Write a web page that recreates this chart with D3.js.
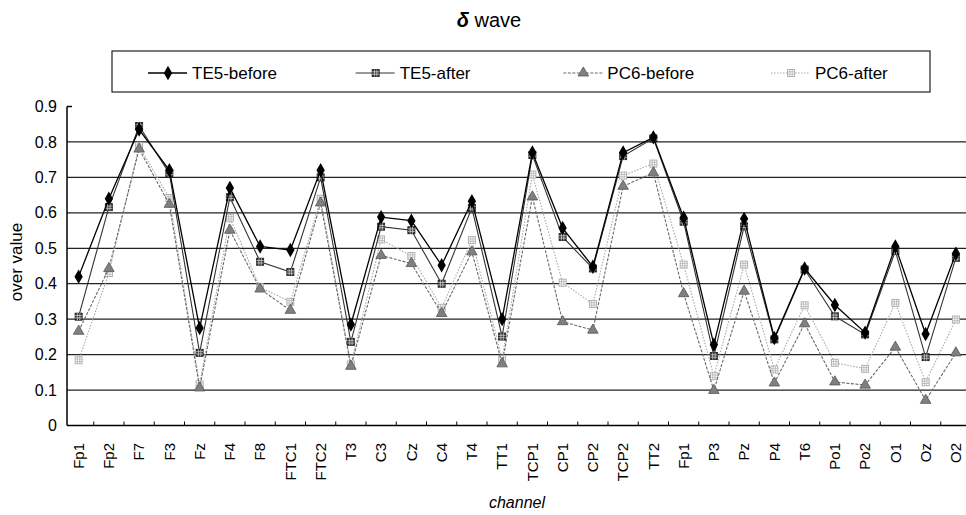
<!DOCTYPE html>
<html>
<head>
<meta charset="utf-8">
<script src="https://cdn.jsdelivr.net/npm/d3@7/dist/d3.min.js"></script>
<style>
  body { margin: 0; background: #fff; }
  svg { display: block; font-family: "Liberation Sans", Arial, sans-serif; }
</style>
</head>
<body>
<div id="chart_div"></div>
<script>
// channel names (Fp1 appears twice in the source chart)
var channels = ["Fp1", "Fp2", "F7", "F3", "Fz", "F4", "F8", "FTC1", "FTC2", "T3",
    "C3", "Cz", "C4", "T4", "TT1", "TCP1", "CP1", "CP2", "TCP2", "TT2",
    "Fp1", "P3", "Pz", "P4", "T6", "Po1", "Po2", "O1", "Oz", "O2"];

var te5Before = [0.42, 0.64, 0.835, 0.72, 0.275, 0.67, 0.505, 0.495, 0.72, 0.285,
    0.588, 0.578, 0.452, 0.633, 0.30, 0.77, 0.557, 0.448, 0.77, 0.813,
    0.586, 0.228, 0.583, 0.247, 0.443, 0.34, 0.262, 0.505, 0.258, 0.485];
var te5After = [0.307, 0.616, 0.845, 0.711, 0.205, 0.644, 0.462, 0.433, 0.70, 0.236,
    0.561, 0.551, 0.40, 0.614, 0.251, 0.763, 0.532, 0.443, 0.76, 0.81,
    0.575, 0.196, 0.562, 0.243, 0.44, 0.308, 0.257, 0.492, 0.193, 0.473];
var pc6Before = [0.266, 0.443, 0.78, 0.624, 0.106, 0.551, 0.385, 0.325, 0.628, 0.167,
    0.48, 0.457, 0.316, 0.49, 0.174, 0.645, 0.293, 0.269, 0.675, 0.713,
    0.372, 0.099, 0.379, 0.12, 0.287, 0.123, 0.114, 0.221, 0.071, 0.205];
var pc6After = [0.184, 0.43, 0.788, 0.642, 0.116, 0.586, 0.39, 0.349, 0.64, 0.172,
    0.525, 0.478, 0.332, 0.523, 0.188, 0.708, 0.403, 0.343, 0.705, 0.739,
    0.454, 0.139, 0.454, 0.158, 0.339, 0.177, 0.16, 0.346, 0.122, 0.299];

var seriesNames = ["TE5-before", "TE5-after", "PC6-before", "PC6-after"];
var yTicks = [0, 0.1, 0.2, 0.3, 0.4, 0.5, 0.6, 0.7, 0.8, 0.9];

var width = 966, height = 515;
var svg = d3.select("#chart_div").append("svg")
    .attr("width", width)
    .attr("height", height);

var x = d3.scaleBand()
    .domain(d3.range(channels.length))
    .range([63.5, 971])
    .padding(0);
var y = d3.scaleLinear().domain([0, 0.9]).range([425.5, 106.5]);
var axisX = 67;

function cx(i) { return x(i) + x.bandwidth() / 2; }

// gridlines
svg.append("g").selectAll("line")
    .data(yTicks.filter(function(d) { return d > 0 && d < 0.9; }))
    .enter().append("line")
    .attr("x1", axisX).attr("x2", width)
    .attr("y1", function(d) { return y(d); })
    .attr("y2", function(d) { return y(d); })
    .attr("stroke", "#222")
    .attr("stroke-width", 1.2);

// y axis
var yAxis = svg.append("g")
    .attr("transform", "translate(" + axisX + ",0)")
    .call(d3.axisLeft(y).tickValues(yTicks).tickSize(0).tickPadding(10)
        .tickFormat(function(d) { return d === 0 ? "0" : d3.format(".1f")(d); }));
yAxis.select(".domain").remove();
yAxis.selectAll("text").attr("font-size", 16).attr("fill", "#000")
    .attr("font-family", "Liberation Sans, Arial, sans-serif");
svg.append("line")
    .attr("x1", axisX).attr("x2", axisX)
    .attr("y1", y(0.9)).attr("y2", y(0))
    .attr("stroke", "#000").attr("stroke-width", 1.5);
svg.append("line")
    .attr("x1", axisX).attr("x2", axisX + 5)
    .attr("y1", y(0.9)).attr("y2", y(0.9))
    .attr("stroke", "#000").attr("stroke-width", 1.5);

// x axis
svg.append("line")
    .attr("x1", axisX).attr("x2", width)
    .attr("y1", y(0)).attr("y2", y(0))
    .attr("stroke", "#000").attr("stroke-width", 1.6);
svg.append("g").selectAll("line")
    .data(d3.range(1, channels.length))
    .enter().append("line")
    .attr("x1", function(d) { return x(d); })
    .attr("x2", function(d) { return x(d); })
    .attr("y1", y(0)).attr("y2", y(0) - 4)
    .attr("stroke", "#000").attr("stroke-width", 1);
svg.append("g").selectAll("text")
    .data(d3.range(channels.length))
    .enter().append("text")
    .attr("transform", function(d) { return "translate(" + cx(d) + ",443) rotate(-90)"; })
    .attr("dy", "0.35em")
    .attr("text-anchor", "end")
    .attr("font-size", 15)
    .text(function(d) { return channels[d]; });

// axis titles
svg.append("text")
    .attr("transform", "translate(22,262) rotate(-90)")
    .attr("text-anchor", "middle")
    .attr("font-size", 17)
    .text("over value");
svg.append("text")
    .attr("x", 517).attr("y", 508)
    .attr("text-anchor", "middle")
    .attr("font-size", 16)
    .attr("font-style", "italic")
    .text("channel");

// title
svg.append("text")
    .attr("x", 489).attr("y", 27)
    .attr("text-anchor", "middle")
    .attr("font-size", 20)
    .html('<tspan font-style="italic" font-weight="bold">δ</tspan> wave');

// series
var series = [
    {name: seriesNames[0], values: te5Before, stroke: "#000", width: 1.3, dash: null, marker: "diamond"},
    {name: seriesNames[1], values: te5After, stroke: "#333", width: 1.1, dash: null, marker: "square"},
    {name: seriesNames[2], values: pc6Before, stroke: "#6a6a6a", width: 1.1, dash: "3,1.5", marker: "triangle"},
    {name: seriesNames[3], values: pc6After, stroke: "#a8a8a8", width: 1.1, dash: "1.5,1.5", marker: "hash"}
];

function drawMarker(g, type) {
    if (type == "diamond") {
        g.append("path")
            .attr("d", d3.symbol().type(d3.symbolDiamond).size(60)())
            .attr("fill", "#000");
    } else if (type == "triangle") {
        g.append("path")
            .attr("d", d3.symbol().type(d3.symbolTriangle).size(48)())
            .attr("fill", "#808080").attr("stroke", "#555").attr("stroke-width", 0.8);
    } else {
        var dark = type == "square";
        g.append("rect")
            .attr("x", -3.5).attr("y", -3.5).attr("width", 7).attr("height", 7)
            .attr("fill", dark ? "#333" : "#fff")
            .attr("stroke", dark ? "#222" : "#aaa").attr("stroke-width", 0.9);
        [-1.2, 1.2].forEach(function(o) {
            g.append("line").attr("x1", -3.5).attr("x2", 3.5).attr("y1", o).attr("y2", o)
                .attr("stroke", dark ? "#ddd" : "#aaa").attr("stroke-width", 0.7);
            g.append("line").attr("y1", -3.5).attr("y2", 3.5).attr("x1", o).attr("x2", o)
                .attr("stroke", dark ? "#ddd" : "#aaa").attr("stroke-width", 0.7);
        });
    }
}

var line = d3.line()
    .x(function(d, i) { return cx(i); })
    .y(function(d) { return y(d); });

// draw lighter series first so the black ones sit on top
series.slice().reverse().forEach(function(s) {
    svg.append("path")
        .datum(s.values)
        .attr("d", line)
        .attr("fill", "none")
        .attr("stroke", s.stroke)
        .attr("stroke-width", s.width)
        .attr("stroke-dasharray", s.dash);
    svg.append("g").selectAll("g")
        .data(s.values)
        .enter().append("g")
        .attr("transform", function(d, i) { return "translate(" + cx(i) + "," + y(d) + ")"; })
        .each(function() { drawMarker(d3.select(this), s.marker); });
});

// legend
var legend = svg.append("g");
legend.append("rect")
    .attr("x", 112).attr("y", 51).attr("width", 818).attr("height", 41)
    .attr("fill", "#fff").attr("stroke", "#222").attr("stroke-width", 1.2);
var legendX = d3.scalePoint().domain(seriesNames).range([192, 815]);
series.forEach(function(s) {
    var tx = legendX(s.name);
    var item = legend.append("g");
    item.append("line")
        .attr("x1", tx - 44).attr("x2", tx - 5)
        .attr("y1", 73).attr("y2", 73)
        .attr("stroke", s.stroke).attr("stroke-width", s.width)
        .attr("stroke-dasharray", s.dash);
    drawMarker(item.append("g").attr("transform", "translate(" + (tx - 24) + ",73)"), s.marker);
    item.append("text")
        .attr("x", tx).attr("y", 79)
        .attr("font-size", 17)
        .text(s.name);
});
</script>
</body>
</html>
